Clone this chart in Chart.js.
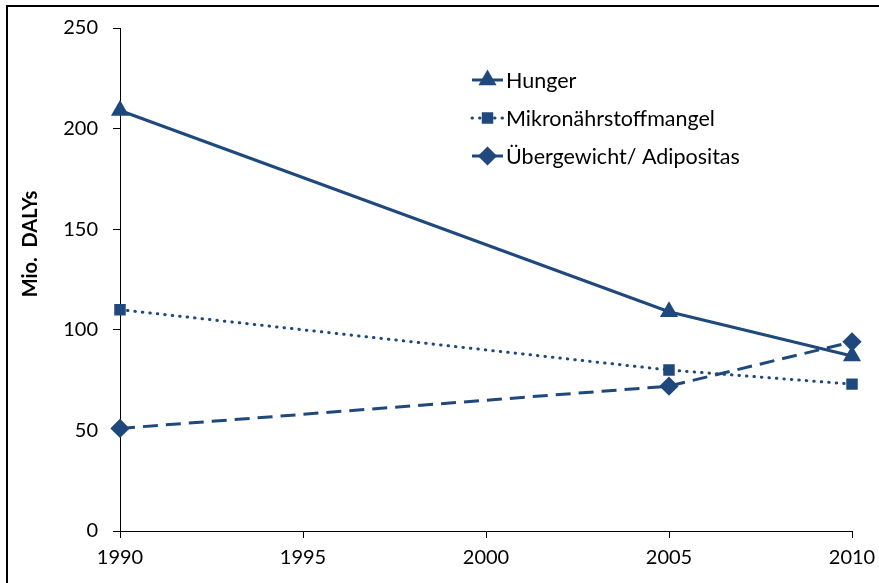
<!DOCTYPE html>
<html><head><meta charset="utf-8">
<script src="https://cdn.jsdelivr.net/npm/chart.js@4/dist/chart.umd.min.js"></script>
<style>
html,body{margin:0;padding:0;background:#fff;}
#wrap{position:relative;width:879px;height:583px;overflow:hidden;}
#frame{position:absolute;left:6px;top:5px;width:900px;height:600px;border-left:2px solid #000;border-top:2px solid #000;pointer-events:none;}
canvas{position:absolute;left:0;top:0;}
</style></head>
<body>
<div id="wrap"><canvas id="c" width="879" height="583"></canvas><div id="frame"></div></div>
<script>
const years = [1990, 2005, 2010];
const hunger = [209, 109, 87];
const mikro = [110, 80, 73];
const adipositas = [51, 72, 94];
const seriesNames = ['Hunger', 'Mikronährstoffmangel', 'Übergewicht/ Adipositas'];
const yTitle = 'Mio.  DALYs';
const xTicks = [1990, 1995, 2000, 2005, 2010];
const yTicks = [0, 50, 100, 150, 200, 250];

const COLOR = '#1f497d';
const FONT = 'Lato, "Open Sans", sans-serif';

function pts(vals){ return years.map((y,i)=>({x:y,y:vals[i]})); }

const legendPlugin = {
  id:'customLegend',
  afterDraw(chart){
    const ctx = chart.ctx;
    const x0 = 472, x1 = 503, tx = 506;
    const ys = [80, 118, 156];
    chart.data.datasets.forEach((ds,i)=>{
      const y = ys[i];
      ctx.save();
      ctx.strokeStyle = ds.borderColor;
      ctx.lineWidth = ds.borderWidth;
      ctx.setLineDash(ds.borderDash || []);
      ctx.lineCap = ds.borderCapStyle || 'butt';
      ctx.beginPath(); ctx.moveTo(x0,y); ctx.lineTo(x1,y); ctx.stroke();
      ctx.setLineDash([]);
      ctx.lineCap = 'butt';
      ctx.fillStyle = ds.pointBackgroundColor;
      ctx.strokeStyle = ds.pointBorderColor;
      Chart.helpers.drawPoint(ctx, {pointStyle: ds.pointStyle, radius: ds.pointRadius, borderWidth: 1, rotation:0}, (x0+x1)/2, y);
      ctx.fillStyle = '#000';
      ctx.font = '21.5px ' + FONT;
      ctx.textBaseline = 'middle';
      ctx.textAlign = 'left';
      ctx.fillText(ds.label, tx, y+1);
      ctx.restore();
    });
    ctx.save();
    ctx.translate(31, 244);
    ctx.rotate(-Math.PI/2);
    ctx.font = 'bold 20px ' + FONT;
    ctx.fillStyle = '#000';
    ctx.textAlign = 'center';
    ctx.textBaseline = 'middle';
    ctx.fillText(yTitle, 0, 0);
    ctx.restore();
  }
};

const common = {borderColor:COLOR, backgroundColor:COLOR, pointBackgroundColor:COLOR, pointBorderColor:COLOR, fill:false, tension:0, clip:false};

new Chart(document.getElementById('c'), {
  type:'line',
  data:{datasets:[
    Object.assign({label:seriesNames[0], data:pts(hunger), borderWidth:3, pointStyle:'triangle', pointRadius:7.5}, common),
    Object.assign({label:seriesNames[1], data:pts(mikro), borderWidth:3, borderDash:[0.5,7], borderCapStyle:'round', pointStyle:'rect', pointRadius:6}, common),
    Object.assign({label:seriesNames[2], data:pts(adipositas), borderWidth:3, borderDash:[15,8], pointStyle:'rectRot', pointRadius:7.5}, common)
  ]},
  options:{
    responsive:false, animation:false,
    layout:{padding:{left:0,right:27,top:28,bottom:0}},
    plugins:{legend:{display:false}, tooltip:{enabled:false}},
    scales:{
      x:{type:'linear', min:1990, max:2010,
        afterBuildTicks(s){ s.ticks = xTicks.map(v=>({value:v})); },
        afterFit(s){ s.height = 52; s.paddingRight = 0; s.paddingLeft = 0; },
        ticks:{color:'#000', font:{family:FONT,size:20}, padding:8, maxRotation:0, callback:v=>String(v)},
        grid:{display:true, drawOnChartArea:false, drawTicks:true, tickLength:7, color:'#000', lineWidth:1},
        border:{display:true, color:'#000', width:1}},
      y:{min:0, max:250,
        afterBuildTicks(s){ s.ticks = yTicks.map(v=>({value:v})); },
        afterFit(s){ s.width = 120; s.paddingTop = 0; s.paddingBottom = 0; },
        ticks:{color:'#000', font:{family:FONT,size:20}, padding:15},
        grid:{display:true, drawOnChartArea:false, drawTicks:true, tickLength:7, color:'#000', lineWidth:1},
        border:{display:true, color:'#000', width:1}}
    }
  },
  plugins:[legendPlugin]
});
</script>
</body></html>
